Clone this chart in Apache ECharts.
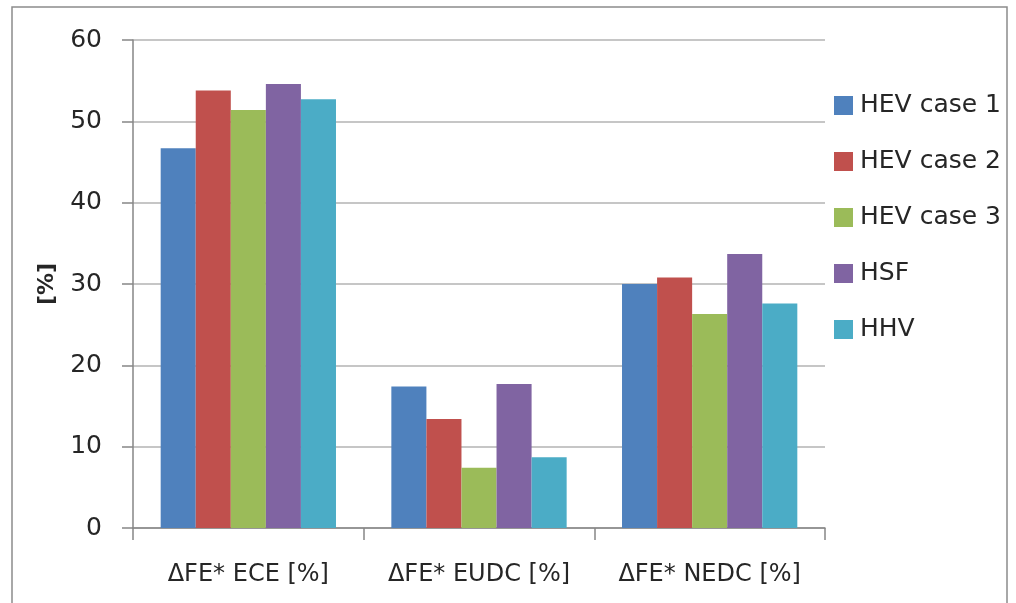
<!DOCTYPE html>
<html>
<head>
<meta charset="utf-8">
<script src="https://cdn.jsdelivr.net/npm/echarts@6/dist/echarts.min.js"></script>
<style>
  html, body { margin: 0; padding: 0; background: #fff; }
  #chart { width: 1016px; height: 603px; }
</style>
</head>
<body>
<div id="chart"></div>
<script>
// Fuel economy improvement per driving cycle, by vehicle configuration
const categories = ['ΔFE* ECE [%]', 'ΔFE* EUDC [%]', 'ΔFE* NEDC [%]'];
const seriesNames = ['HEV case 1', 'HEV case 2', 'HEV case 3', 'HSF', 'HHV'];
const hevCase1 = [46.7, 17.4, 30.0];
const hevCase2 = [53.8, 13.4, 30.8];
const hevCase3 = [51.4, 7.4, 26.3];
const hsf = [54.6, 17.7, 33.7];
const hhv = [52.7, 8.7, 27.6];
const yTicks = { min: 0, max: 60, interval: 10 };

const seriesValues = [hevCase1, hevCase2, hevCase3, hsf, hhv];
const colors = ['#4F81BD', '#C0504D', '#9BBB59', '#8064A2', '#4BACC6'];
const fontFamily = '"DejaVu Sans", "Open Sans", sans-serif';

const chart = echarts.init(document.getElementById('chart'));
chart.setOption({
  animation: false,
  color: colors,
  textStyle: { fontFamily: fontFamily },
  graphic: [{
    type: 'rect',
    shape: { x: 12, y: 7, width: 995, height: 610 },
    style: { fill: 'none', stroke: '#8c8c8c', lineWidth: 1.5 },
    silent: true
  }],
  grid: { left: 133, right: 191, top: 40, bottom: 75, containLabel: false },
  legend: {
    orient: 'vertical',
    left: 829,
    top: 88,
    itemWidth: 19,
    itemHeight: 19,
    itemGap: 31,
    icon: 'rect',
    textStyle: { fontSize: 25, color: '#262626', fontFamily: fontFamily, padding: [0, 0, 0, 2] },
    data: seriesNames
  },
  xAxis: {
    type: 'category',
    data: categories,
    axisLine: { lineStyle: { color: '#868686', width: 1.5 } },
    axisTick: { show: true, interval: 0, alignWithLabel: false, length: 12, lineStyle: { color: '#868686', width: 1.5 } },
    axisLabel: { interval: 0, hideOverlap: false, fontSize: 24, color: '#262626', margin: 35, fontFamily: fontFamily }
  },
  yAxis: {
    type: 'value',
    min: yTicks.min,
    max: yTicks.max,
    interval: yTicks.interval,
    name: '[%]',
    nameLocation: 'middle',
    nameGap: 75,
    nameRotate: 90,
    nameTextStyle: { fontSize: 22, fontWeight: 'bold', color: '#262626', fontFamily: fontFamily },
    axisLine: { show: true, lineStyle: { color: '#868686', width: 1.5 } },
    axisTick: { show: true, length: 11, lineStyle: { color: '#868686', width: 1.5 } },
    axisLabel: { fontSize: 25, color: '#262626', margin: 31, fontFamily: fontFamily },
    splitLine: { show: true, lineStyle: { color: '#b3b3b3', width: 1.5 } }
  },
  series: seriesNames.map((name, i) => ({
    name: name,
    type: 'bar',
    data: seriesValues[i],
    barGap: '0%',
    barCategoryGap: '24%',
    itemStyle: { color: colors[i] }
  }))
});
</script>
</body>
</html>
